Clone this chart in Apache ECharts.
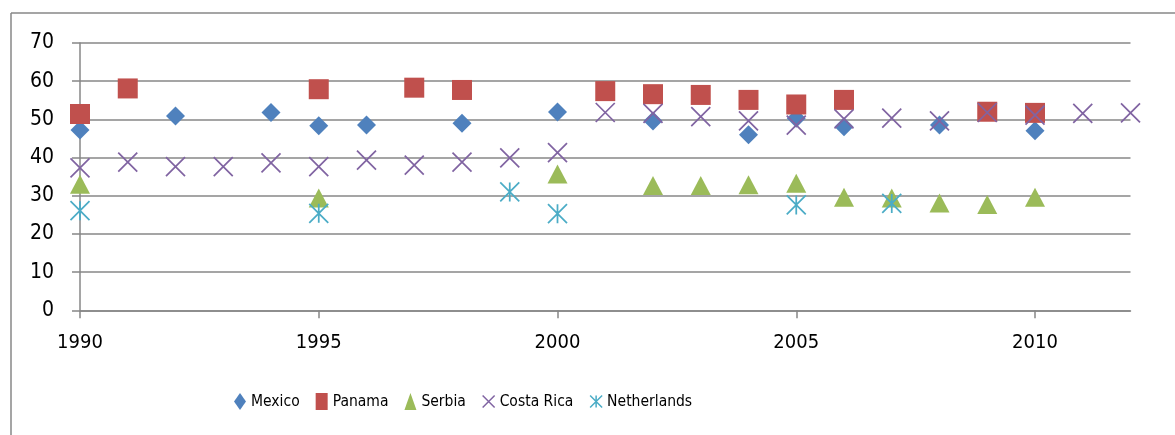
<!DOCTYPE html>
<html>
<head>
<meta charset="utf-8">
<script src="https://cdn.jsdelivr.net/npm/echarts@6/dist/echarts.min.js"></script>
<style>
  html, body { margin: 0; padding: 0; background: #fff; }
  #chart { width: 1175px; height: 435px; }
</style>
</head>
<body>
<div id="chart"></div>
<script>
// Values by year for each country
const mexicoYears = [1990, 1992, 1994, 1995, 1996, 1998, 2000, 2002, 2004, 2005, 2006, 2008, 2010];
const mexicoValues = [47.2, 50.9, 51.8, 48.3, 48.5, 49.0, 51.9, 49.6, 46.0, 50.3, 48.1, 48.5, 47.0];

const panamaYears = [1990, 1991, 1995, 1997, 1998, 2001, 2002, 2003, 2004, 2005, 2006, 2009, 2010];
const panamaValues = [51.4, 58.1, 57.9, 58.3, 57.7, 57.4, 56.6, 56.4, 55.1, 53.9, 55.1, 52.0, 51.7];

const serbiaYears = [1990, 1995, 2000, 2002, 2003, 2004, 2005, 2006, 2007, 2008, 2009, 2010];
const serbiaValues = [33.0, 29.4, 35.7, 32.7, 32.7, 32.9, 33.3, 29.6, 29.4, 28.1, 27.7, 29.6];

const costaRicaYears = [1990, 1991, 1992, 1993, 1994, 1995, 1996, 1997, 1998, 1999, 2000, 2001,
  2002, 2003, 2004, 2005, 2006, 2007, 2008, 2009, 2010, 2011, 2012];
const costaRicaValues = [37.3, 38.8, 37.6, 37.6, 38.6, 37.6, 39.3, 38.0, 38.8, 39.9, 41.3, 51.8,
  51.6, 50.7, 49.6, 48.5, 50.1, 50.3, 49.6, 51.8, 51.1, 51.6, 51.7];

const netherlandsYears = [1990, 1995, 1999, 2000, 2005, 2007];
const netherlandsValues = [26.1, 25.4, 31.0, 25.3, 27.6, 28.0];

const xTicks = [1990, 1995, 2000, 2005, 2010];
const yTicks = [0, 10, 20, 30, 40, 50, 60, 70];

const FONT = "'Liberation Sans Narrow', 'DejaVu Sans Condensed', 'Liberation Sans', sans-serif";
const GRID_COLOR = '#878787';

const CROSS = 'path://M0,0L10,10M10,0L0,10';
const STAR = 'path://M0,0L10,10M10,0L0,10M5,0L5,10';

function pairs(xs, ys) {
  return xs.map((x, i) => [x, ys[i]]);
}

const chart = echarts.init(document.getElementById('chart'), null, { renderer: 'canvas' });

chart.setOption({
  animation: false,
  backgroundColor: '#ffffff',
  textStyle: { fontFamily: FONT },
  graphic: [
    { type: 'line', shape: { x1: 11, y1: 13, x2: 1175, y2: 13 }, style: { stroke: GRID_COLOR, lineWidth: 1.5 } },
    { type: 'line', shape: { x1: 11, y1: 13, x2: 11, y2: 435 }, style: { stroke: GRID_COLOR, lineWidth: 1.5 } }
  ],
  grid: { left: 80, right: 44.5, top: 43, bottom: 124.7, containLabel: false },
  legend: {
    left: 229,
    top: 388,
    itemWidth: 12,
    itemHeight: 17,
    itemGap: 16,
    textStyle: { fontFamily: FONT, fontSize: 15.5, color: '#000' },
    data: [
      { name: 'Mexico', icon: 'diamond' },
      { name: 'Panama', icon: 'rect' },
      { name: 'Serbia', icon: 'triangle' },
      { name: 'Costa Rica', icon: CROSS, itemStyle: { color: 'transparent', borderColor: '#8064A2', borderWidth: 1.5 } },
      { name: 'Netherlands', icon: STAR, itemStyle: { color: 'transparent', borderColor: '#4BACC6', borderWidth: 1.5 } }
    ]
  },
  xAxis: {
    type: 'value',
    min: 1990,
    max: 2012,
    interval: 5,
    axisLine: { show: true, onZero: false, lineStyle: { color: GRID_COLOR, width: 1.5 } },
    axisTick: { show: true, length: 8, customValues: xTicks, lineStyle: { color: GRID_COLOR, width: 1.5 } },
    axisLabel: {
      customValues: xTicks, margin: 22, fontSize: 20, color: '#000', fontFamily: FONT,
      formatter: (v) => String(v)
    },
    splitLine: { show: false }
  },
  yAxis: {
    type: 'value',
    min: 0,
    max: 70,
    interval: 10,
    axisLine: { show: true, lineStyle: { color: GRID_COLOR, width: 1.5 } },
    axisTick: { show: true, length: 8, lineStyle: { color: GRID_COLOR, width: 1.5 } },
    axisLabel: { margin: 26, fontSize: 21, color: '#000', fontFamily: FONT },
    splitLine: { show: true, lineStyle: { color: GRID_COLOR, width: 1.5 } }
  },
  series: [
    {
      name: 'Mexico', type: 'scatter', symbol: 'diamond', symbolSize: [19, 19],
      itemStyle: { color: '#4F81BD', opacity: 1 },
      data: pairs(mexicoYears, mexicoValues), z: 2
    },
    {
      name: 'Panama', type: 'scatter', symbol: 'rect', symbolSize: 20,
      itemStyle: { color: '#C0504D', opacity: 1 },
      data: pairs(panamaYears, panamaValues), z: 3
    },
    {
      name: 'Serbia', type: 'scatter', symbol: 'triangle', symbolSize: [20, 19],
      itemStyle: { color: '#9BBB59', opacity: 1 },
      data: pairs(serbiaYears, serbiaValues), z: 4
    },
    {
      name: 'Costa Rica', type: 'scatter', symbol: CROSS, symbolSize: 19,
      itemStyle: { color: 'transparent', borderColor: '#8064A2', borderWidth: 1.75, opacity: 1 },
      data: pairs(costaRicaYears, costaRicaValues), z: 5
    },
    {
      name: 'Netherlands', type: 'scatter', symbol: STAR, symbolSize: 19,
      itemStyle: { color: 'transparent', borderColor: '#4BACC6', borderWidth: 1.75, opacity: 1 },
      data: pairs(netherlandsYears, netherlandsValues), z: 6
    }
  ]
});
</script>
</body>
</html>
